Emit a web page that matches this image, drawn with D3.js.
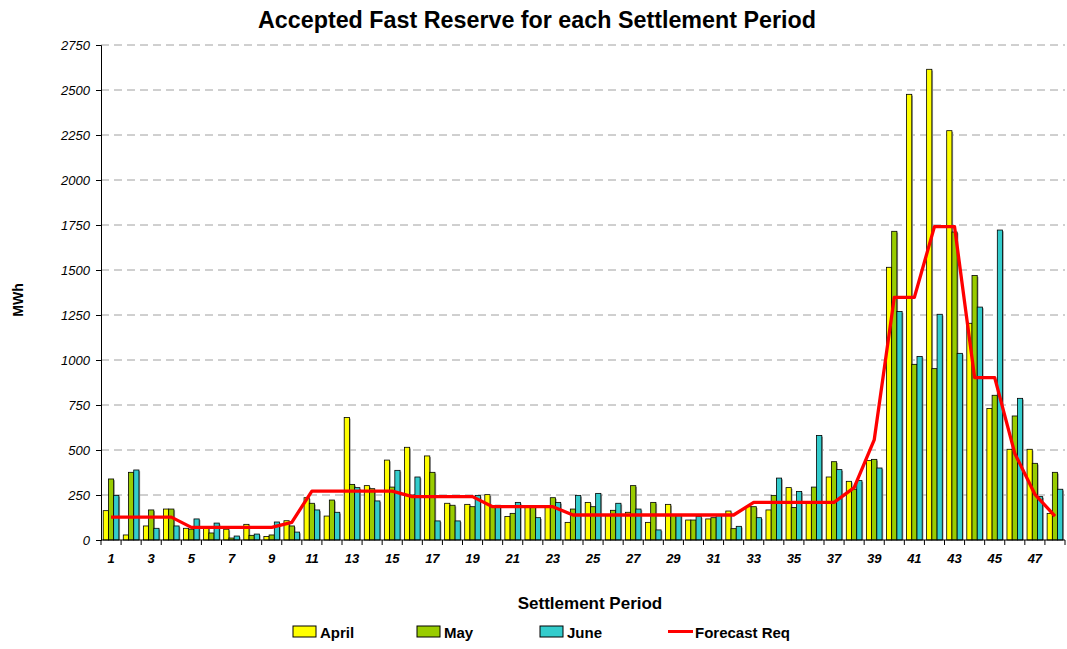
<!DOCTYPE html>
<html>
<head>
<meta charset="utf-8">
<script src="https://cdn.jsdelivr.net/npm/d3@7/dist/d3.min.js"></script>
<style>
  body { margin: 0; background: #fff; }
  svg { font-family: "Liberation Sans", Arial, sans-serif; }
</style>
</head>
<body>
<div id="chart"></div>
<script>
var periods = d3.range(1, 49);
var series = ["April", "May", "June"];
var colors = { April: "#ffff00", May: "#99cc00", June: "#33cccc" };

var april = [163, 28, 78, 172, 65, 69, 60, 87, 20, 107, 235, 133, 681, 302, 444, 515, 467, 204, 198, 252,
             131, 191, 180, 98, 209, 140, 154, 98, 198, 111, 117, 161, 185, 167, 291, 204, 350, 326, 441, 1515,
             2476, 2615, 2274, 1204, 731, 504, 504, 148];
var may   = [339, 376, 167, 172, 60, 39, 11, 26, 28, 78, 204, 222, 309, 285, 294, 250, 376, 193, 185, 190,
             148, 191, 235, 172, 185, 165, 302, 209, 139, 111, 124, 63, 185, 248, 180, 294, 435, 282, 448, 1715,
             976, 952, 1711, 1469, 804, 689, 426, 376];
var june  = [248, 389, 65, 78, 117, 94, 22, 33, 100, 44, 167, 154, 291, 217, 387, 350, 106, 106, 248, 193,
             209, 124, 209, 248, 259, 204, 172, 56, 139, 130, 139, 76, 124, 344, 270, 581, 391, 330, 400, 1269,
             1020, 1254, 1037, 1294, 1722, 787, 241, 282];
var forecast = [127, 127, 127, 127, 70, 70, 70, 70, 70, 98, 272, 272, 272, 272, 272, 241, 241, 241, 241, 185,
                185, 185, 185, 139, 139, 139, 139, 139, 139, 139, 139, 139, 209, 209, 209, 209, 209, 291, 556, 1348,
                1348, 1741, 1741, 902, 902, 481, 254, 133];
var yTicks = d3.range(0, 2751, 250);

var values = { April: april, May: may, June: june };

var width = 1067, height = 649;
var plotLeft = 101, plotRight = 1065, plotTop = 45, plotBottom = 540;

var svg = d3.select("#chart").append("svg")
  .attr("width", width)
  .attr("height", height);

var x = d3.scaleBand().domain(periods).range([plotLeft, plotRight]).padding(0);
var xs = d3.scaleBand().domain(series)
  .range([x.bandwidth() * 0.11, x.bandwidth() * 0.89]).padding(0);
var y = d3.scaleLinear().domain([0, 2750]).range([plotBottom, plotTop]);

// grid
svg.append("g")
  .selectAll("line")
  .data(yTicks.filter(function(d) { return d > 0; }))
  .join("line")
  .attr("x1", plotLeft).attr("x2", plotRight)
  .attr("y1", function(d) { return y(d); })
  .attr("y2", function(d) { return y(d); })
  .attr("stroke", "#a0a0a0")
  .attr("stroke-width", 1)
  .attr("stroke-dasharray", "8,5");

// bars
var groups = svg.append("g")
  .selectAll("g")
  .data(periods)
  .join("g")
  .attr("transform", function(d) { return "translate(" + x(d) + ",0)"; });

series.forEach(function(s) {
  // soft shadow
  groups.append("rect")
    .attr("x", function() { return xs(s) + 1.2; })
    .attr("y", function(d) { return y(values[s][d - 1]) + 1.2; })
    .attr("width", xs.bandwidth())
    .attr("height", function(d) { return Math.max(0, plotBottom - y(values[s][d - 1]) - 1.2); })
    .attr("fill", "#9a9a9a");
});
series.forEach(function(s) {
  groups.append("rect")
    .attr("x", function() { return xs(s); })
    .attr("y", function(d) { return y(values[s][d - 1]); })
    .attr("width", xs.bandwidth())
    .attr("height", function(d) { return plotBottom - y(values[s][d - 1]); })
    .attr("fill", colors[s])
    .attr("stroke", "#000")
    .attr("stroke-width", 0.8);
});

// forecast line
var line = d3.line()
  .x(function(d, i) { return x(periods[i]) + x.bandwidth() / 2; })
  .y(function(d) { return y(d); });

svg.append("path")
  .datum(forecast)
  .attr("d", line)
  .attr("fill", "none")
  .attr("stroke", "#ff0000")
  .attr("stroke-width", 3.3)
  .attr("stroke-linejoin", "round");

// y axis
var yAxis = svg.append("g")
  .attr("transform", "translate(" + plotLeft + ",0)")
  .call(d3.axisLeft(y).tickValues(yTicks).tickSize(5).tickPadding(6).tickFormat(d3.format("d")));
yAxis.select(".domain").attr("stroke", "#000");
yAxis.selectAll("text")
  .attr("font-size", 13)
  .attr("font-style", "italic")
  .attr("font-family", "Liberation Sans, Arial, sans-serif");

// x axis: ticks at category boundaries
var xAxis = svg.append("g");
xAxis.append("line")
  .attr("x1", plotLeft).attr("x2", plotRight)
  .attr("y1", plotBottom).attr("y2", plotBottom)
  .attr("stroke", "#000");
xAxis.selectAll("line.tick")
  .data(periods.concat([49]))
  .join("line")
  .attr("class", "tick")
  .attr("x1", function(d) { return d <= 48 ? x(d) : plotRight; })
  .attr("x2", function(d) { return d <= 48 ? x(d) : plotRight; })
  .attr("y1", plotBottom).attr("y2", plotBottom + 5)
  .attr("stroke", "#000");
xAxis.selectAll("text")
  .data(periods.filter(function(d) { return d % 2 === 1; }))
  .join("text")
  .attr("x", function(d) { return x(d) + x.bandwidth() / 2; })
  .attr("y", 563)
  .attr("text-anchor", "middle")
  .attr("font-size", 13)
  .attr("font-weight", "bold")
  .attr("font-style", "italic")
  .text(function(d) { return d; });

// titles
svg.append("text")
  .attr("x", 537).attr("y", 28)
  .attr("text-anchor", "middle")
  .attr("font-size", 23.3)
  .attr("font-weight", "bold")
  .text("Accepted Fast Reserve for each Settlement Period");

svg.append("text")
  .attr("x", 590).attr("y", 609)
  .attr("text-anchor", "middle")
  .attr("font-size", 17)
  .attr("font-weight", "bold")
  .text("Settlement Period");

svg.append("text")
  .attr("transform", "translate(23,300) rotate(-90)")
  .attr("text-anchor", "middle")
  .attr("font-size", 14)
  .attr("font-weight", "bold")
  .text("MWh");

// legend
var legendItems = [
  { name: "April", x: 293, type: "bar" },
  { name: "May", x: 417, type: "bar" },
  { name: "June", x: 540, type: "bar" },
  { name: "Forecast Req", x: 668, type: "line" }
];
var legend = svg.append("g");
legendItems.forEach(function(it) {
  if (it.type === "bar") {
    legend.append("rect")
      .attr("x", it.x).attr("y", 626)
      .attr("width", 23).attr("height", 11)
      .attr("fill", colors[it.name])
      .attr("stroke", "#000")
      .attr("stroke-width", 1);
  } else {
    legend.append("line")
      .attr("x1", it.x).attr("x2", it.x + 25)
      .attr("y1", 631.5).attr("y2", 631.5)
      .attr("stroke", "#ff0000")
      .attr("stroke-width", 3);
  }
  legend.append("text")
    .attr("x", it.x + 27).attr("y", 638)
    .attr("font-size", 15)
    .attr("font-weight", "bold")
    .text(it.name);
});
</script>
</body>
</html>
